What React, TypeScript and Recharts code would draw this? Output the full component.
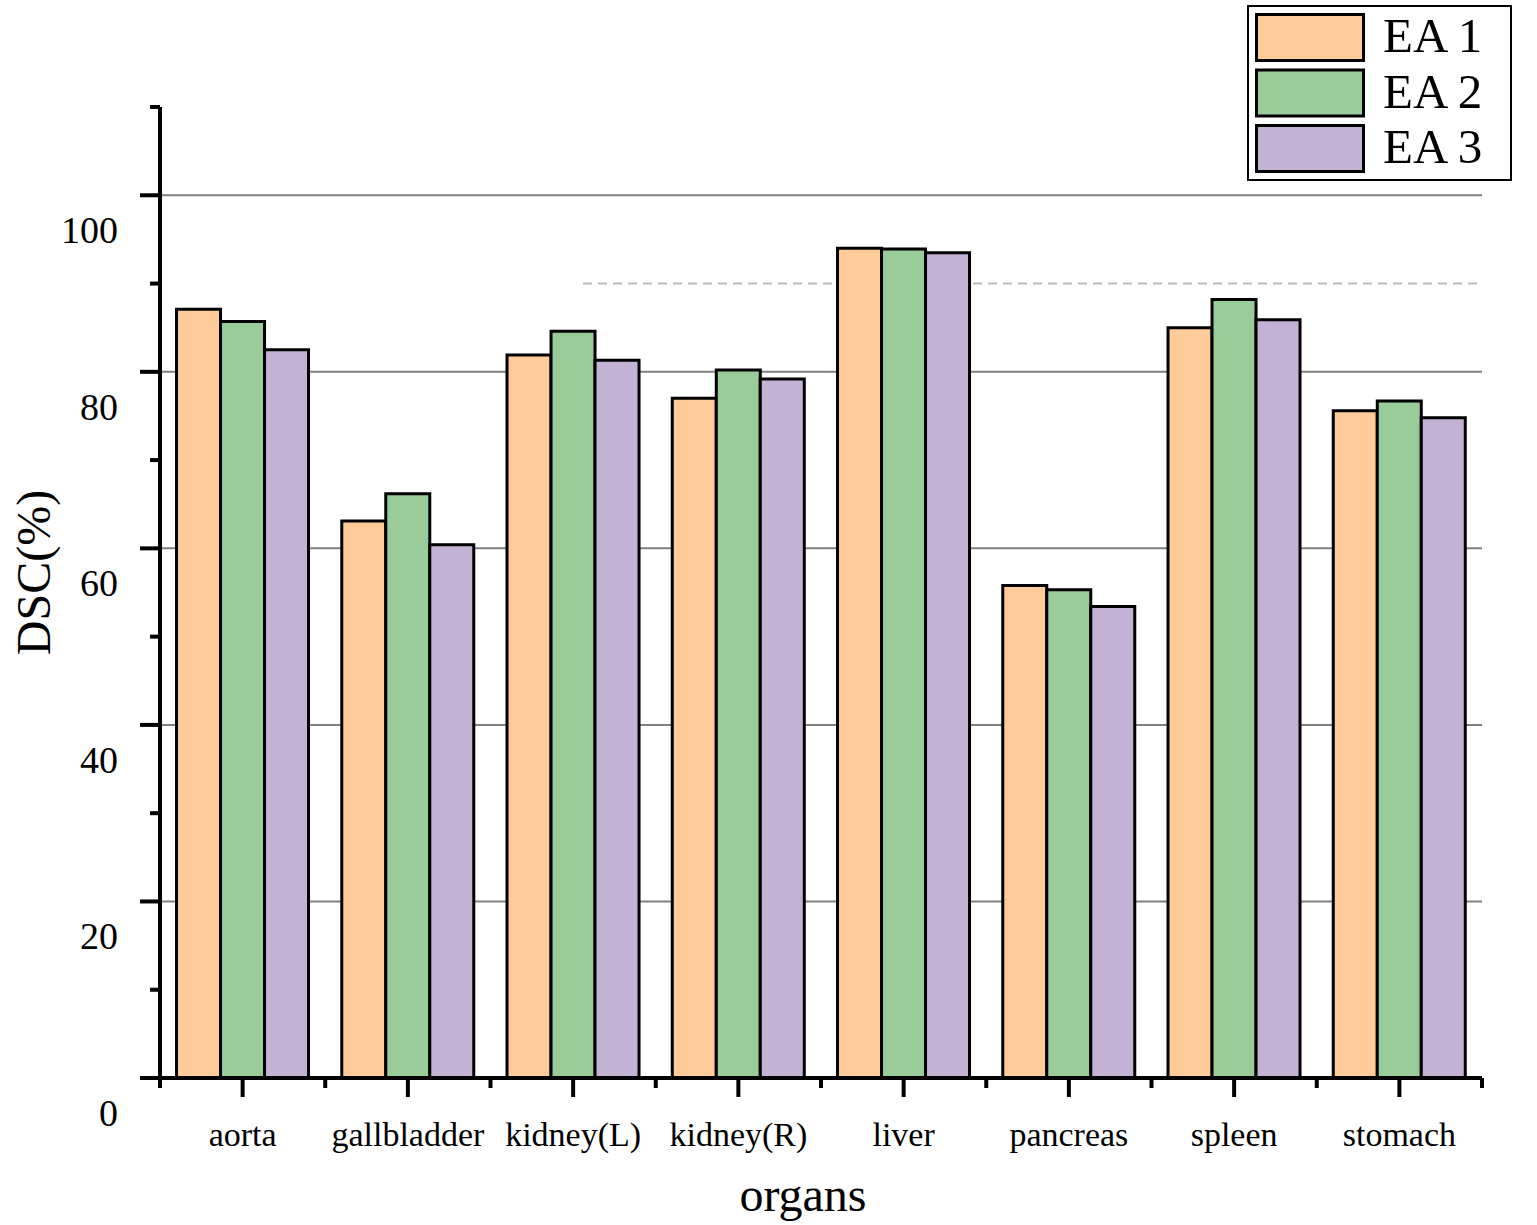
import React from 'react';
import { BarChart, Bar, XAxis, YAxis, CartesianGrid, Legend, Label } from 'recharts';

const categories = ['aorta', 'gallbladder', 'kidney(L)', 'kidney(R)', 'liver', 'pancreas', 'spleen', 'stomach'];
const ea1 = [87.1, 63.1, 81.9, 77.0, 94.0, 55.8, 85.0, 75.6];
const ea2 = [85.7, 66.2, 84.6, 80.2, 93.9, 55.3, 88.2, 76.7];
const ea3 = [82.5, 60.4, 81.3, 79.2, 93.5, 53.4, 85.9, 74.8];
const seriesNames = ['EA 1', 'EA 2', 'EA 3'];
const seriesColors = ['#FFCC99', '#99CC99', '#C3B2D4'];
const yTicks = [0, 10, 20, 30, 40, 50, 60, 70, 80, 90, 100, 110];
const gridValues = [20, 40, 60, 80, 100];
const dashedValues = [90];
const dashedFrom = 2.56; // in category-band units from the left of the plot

const data = categories.map((c, i) => ({ organ: c, ea1: ea1[i], ea2: ea2[i], ea3: ea3[i] }));

const FONT = '"Liberation Serif", "Times New Roman", serif';
const CHART_W = 1537;
const CHART_H = 1225;
const MARGIN = { top: 107, right: 55, bottom: 47, left: 0 };
const Y_AXIS_W = 160;
const PLOT_W = CHART_W - MARGIN.right - MARGIN.left - Y_AXIS_W;
const BAND = PLOT_W / categories.length;
const DASH_X = MARGIN.left + Y_AXIS_W + dashedFrom * BAND;
const DASH_W = PLOT_W - dashedFrom * BAND;

function YTick(props: any) {
  const { x, y, payload } = props;
  const v = payload.value;
  const major = v % 20 === 0;
  return (
    <g>
      <line x1={x - (major ? 20 : 10)} x2={x} y1={y} y2={y} stroke="#000" strokeWidth={4} />
      {major && (
        <text x={x - 42} y={y + 48} textAnchor="end" fontFamily={FONT} fontSize={38} fill="#000">
          {v}
        </text>
      )}
    </g>
  );
}

function XTick(props: any) {
  const { x, y, payload, index } = props;
  const left = x - BAND / 2;
  const right = x + BAND / 2;
  return (
    <g>
      {index === 0 && <line x1={left - 20} x2={left} y1={y} y2={y} stroke="#000" strokeWidth={4} />}
      <line x1={left} x2={left} y1={y} y2={y + 10} stroke="#000" strokeWidth={4} />
      <line x1={x} x2={x} y1={y} y2={y + 19} stroke="#000" strokeWidth={4} />
      {index === categories.length - 1 && (
        <line x1={right} x2={right} y1={y} y2={y + 10} stroke="#000" strokeWidth={4} />
      )}
      <text x={x} y={y + 68} textAnchor="middle" fontFamily={FONT} fontSize={34} fill="#000">
        {payload.value}
      </text>
    </g>
  );
}

function LegendBox(props: any) {
  const payload = (props.payload || []).filter((p: any) => seriesNames.includes(p.value));
  return (
    <svg width={265} height={176} style={{ display: 'block' }}>
      <rect x={1} y={1} width={263} height={174} fill="#fff" stroke="#000" strokeWidth={2} />
      {payload.map((p: any, i: number) => (
        <g key={p.value}>
          <rect x={9.5} y={9.5 + i * 55.5} width={107} height={46} fill={p.color} stroke="#000" strokeWidth={3} />
          <text x={136} y={47 + i * 55.5} fontFamily={FONT} fontSize={49} fill="#000">
            {p.value}
          </text>
        </g>
      ))}
    </svg>
  );
}

export default function App() {
  return (
    <div style={{ position: 'absolute', left: 0, top: 0, background: '#fff' }}>
      <BarChart
        width={CHART_W}
        height={CHART_H}
        data={data}
        margin={MARGIN}
        barCategoryGap="10%"
        barGap={0}
      >
        <CartesianGrid vertical={false} stroke="#808080" strokeWidth={2} horizontalValues={gridValues} />
        <CartesianGrid
          vertical={false}
          x={DASH_X}
          width={DASH_W}
          stroke="#BBBBBB"
          strokeWidth={2}
          strokeDasharray="9 6"
          horizontalValues={dashedValues}
        />
        <XAxis
          dataKey="organ"
          type="category"
          height={100}
          tickSize={0}
          tickMargin={0}
          tickLine={false}
          axisLine={{ stroke: '#000', strokeWidth: 4 }}
          tick={<XTick />}
          interval={0}
        >
          <Label
            content={(p: any) => {
              const vb = p.viewBox;
              return (
                <text x={vb.x + vb.width / 2 - 18} y={1211} textAnchor="middle" fontFamily={FONT} fontSize={48} fill="#000">
                  organs
                </text>
              );
            }}
          />
        </XAxis>
        <YAxis
          width={Y_AXIS_W}
          domain={[0, 110]}
          ticks={yTicks}
          interval={0}
          tickSize={0}
          tickMargin={0}
          tickLine={false}
          axisLine={{ stroke: '#000', strokeWidth: 4 }}
          tick={<YTick />}
        >
          <Label
            content={(p: any) => {
              const vb = p.viewBox;
              const cy = vb.y + vb.height / 2 - 20;
              return (
                <text
                  x={33}
                  y={cy}
                  transform={`rotate(-90, 33, ${cy})`}
                  textAnchor="middle"
                  dominantBaseline="central"
                  fontFamily={FONT}
                  fontSize={48}
                  fill="#000"
                >
                  DSC(%)
                </text>
              );
            }}
          />
        </YAxis>
        <Legend
          layout="vertical"
          align="center"
          verticalAlign="middle"
          content={<LegendBox />}
          wrapperStyle={{ position: 'absolute', left: 1247, top: 5, width: 265, height: 176 }}
        />
        <Bar dataKey="ea1" name={seriesNames[0]} fill={seriesColors[0]} stroke="#000" strokeWidth={3} isAnimationActive={false} />
        <Bar dataKey="ea2" name={seriesNames[1]} fill={seriesColors[1]} stroke="#000" strokeWidth={3} isAnimationActive={false} />
        <Bar dataKey="ea3" name={seriesNames[2]} fill={seriesColors[2]} stroke="#000" strokeWidth={3} isAnimationActive={false} />
      </BarChart>
    </div>
  );
}
